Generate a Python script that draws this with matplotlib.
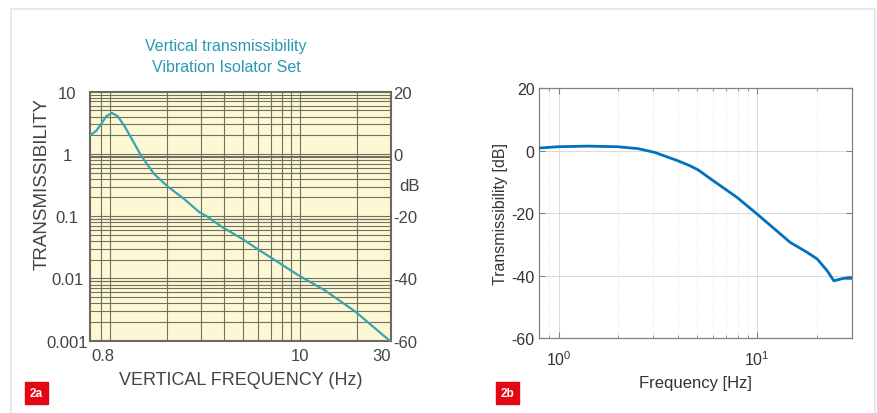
import numpy as np
import matplotlib
matplotlib.use("Agg")
import matplotlib.pyplot as plt
from matplotlib.patches import Rectangle

plt.rcParams['font.family'] = ['Liberation Sans', 'DejaVu Sans']
plt.rcParams['axes.unicode_minus'] = False

# left panel: isolator set, transmissibility (ratio) vs frequency
freq_a = [0.786, 0.792, 0.848, 0.900, 0.956, 1.024, 1.10, 1.19, 1.29, 1.46, 1.71, 2.01, 2.46,
          2.96, 3.23, 3.92, 4.99, 5.90, 7.93, 9.88, 13.6, 19.6, 23.9, 29.2, 30.0]
trans_a = [1.98, 2.02, 2.36, 3.03, 4.03, 4.55, 4.03, 2.84, 1.85, 0.937, 0.476, 0.302, 0.189,
           0.1155, 0.100, 0.0663, 0.0430, 0.0305, 0.0171, 0.0111, 0.00636, 0.00292, 0.00174,
           0.00104, 0.00099]

# right panel: transmissibility in dB vs frequency
freq_b = [0.8, 0.808, 0.99, 1.40, 1.99, 2.51, 3.05, 4.0, 4.6, 5.05, 6.03, 7.93, 10.0, 14.7,
          17.9, 20.1, 22.6, 24.4, 25.8, 27.4, 30.0]
db_b = [0.9, 0.9, 1.3, 1.5, 1.3, 0.7, -0.5, -3.2, -4.8, -6.1, -9.6, -14.9, -20.2, -29.3,
        -32.5, -34.6, -38.4, -41.6, -41.2, -40.8, -40.8]

left_yticks = [0.001, 0.01, 0.1, 1, 10]
left_ylabels = ["0.001", "0.01", "0.1", "1", "10"]
left_dbticks = [-60, -40, -20, 0, 20]
left_xticks = [0.8, 10, 30]
left_xlabels = ["0.8", "10", "30"]
grid_freqs = [0.9, 1, 2, 3, 4, 5, 6, 7, 8, 9, 10, 20]

fig = plt.figure(figsize=(8.78, 4.14), dpi=100)
fig.patch.set_facecolor("white")

# outer frame
frame_col = "#dce6f4"
fig.patches.append(Rectangle((11 / 878, -0.01), (875 - 11) / 878, (414 - 10) / 414 + 0.01,
                             transform=fig.transFigure, fill=False, ec=frame_col, lw=1.2))

# ---- left chart ----
ax1 = fig.add_axes([0.1025, 0.1746, 0.3425, 0.6014])
ax1.set_facecolor("#fdf8d4")
ax1.set_xscale("log")
ax1.set_yscale("log")
ax1.set_xlim(0.786, 30)
ax1.set_ylim(0.001, 10)
grid_col = "#707060"
for f in grid_freqs:
    ax1.axvline(f, color=grid_col, lw=0.8, zorder=1)
for dec in [0.001, 0.01, 0.1, 1]:
    for m in range(2, 10):
        ax1.axhline(dec * m, color=grid_col, lw=0.8, zorder=1)
for dec in [0.01, 0.1, 1]:
    ax1.axhline(dec, color=grid_col, lw=0.8, zorder=1)
    ax1.axhline(dec * 0.918, color=grid_col, lw=0.8, zorder=1)
ax1.plot(freq_a, trans_a, color="#3aa3ad", lw=1.6, zorder=3)
for s in ax1.spines.values():
    s.set_color("#6a6a60")
    s.set_linewidth(1.5)
ax1.set_yticks(left_yticks)
ax1.set_yticklabels(left_ylabels)
ax1.minorticks_off()
ax1.set_xticks(left_xticks)
ax1.set_xticklabels(left_xlabels)
ax1.tick_params(length=0, labelsize=12, colors="#444444")
ax1.tick_params(axis="x", pad=5)
ax1.tick_params(axis="y", pad=16.5)
for lab in ax1.get_yticklabels():
    lab.set_horizontalalignment("center")
ax1.get_xticklabels()[0].set_horizontalalignment("left")
ax1.get_xticklabels()[2].set_horizontalalignment("right")
ax1.set_ylabel("TRANSMISSIBILITY", fontsize=13.5, color="#444444")
ax1.yaxis.set_label_coords(-0.13, 0.632)
ax1.set_xlabel("VERTICAL FREQUENCY (Hz)", fontsize=13, color="#444444", labelpad=6)

ax1r = ax1.twinx()
ax1r.set_ylim(-60, 20)
ax1r.set_yticks(left_dbticks)
ax1r.tick_params(length=0, labelsize=12, colors="#444444", pad=2)
for s in ax1r.spines.values():
    s.set_visible(False)
ax1r.text(1.03, 0.625, "dB", transform=ax1.transAxes, fontsize=12, color="#444444",
          ha="left", va="center")

fig.text(226 / 878, 1 - 47 / 414, "Vertical transmissibility", ha="center", va="center",
         fontsize=11.5, color="#2a98b4")
fig.text(226 / 878, 1 - 67 / 414, "Vibration Isolator Set", ha="center", va="center",
         fontsize=11.5, color="#2a98b4")

# ---- right chart ----
ax2 = fig.add_axes([0.6142, 0.1804, 0.3558, 0.6039])
ax2.set_xscale("log")
ax2.set_xlim(0.8, 30)
ax2.set_ylim(-60, 20)
ax2.set_yticks([-60, -40, -20, 0, 20])
ax2.grid(True, which="major", color="#d9d9d9", lw=0.7)
ax2.grid(True, which="minor", axis="x", color="#e0e0e0", lw=0.6, ls=":")
ax2.plot(freq_b, db_b, color="#0072BD", lw=2.0, zorder=3)
for s in ax2.spines.values():
    s.set_color("#808080")
    s.set_linewidth(0.9)
ax2.tick_params(which="both", direction="in", top=True, right=True, color="#808080",
                labelsize=11.5, labelcolor="#333333")
ax2.tick_params(which="major", length=4)
ax2.tick_params(which="minor", length=2)
ax2.tick_params(axis="x", pad=8)
ax2.set_ylabel("Transmissibility [dB]", fontsize=11.5, color="#333333", labelpad=2)
ax2.set_xlabel("Frequency [Hz]", fontsize=12, color="#333333", labelpad=5)

# panel tags
for x0, tag in [(25, "2a"), (496, "2b")]:
    fig.patches.append(Rectangle((x0 / 878, 1 - 405 / 414), 23 / 878, 22 / 414,
                                 transform=fig.transFigure, color="#e30613", zorder=5))
    fig.text((x0 + 11.5) / 878, 1 - 394 / 414, tag, ha="center", va="center",
             fontsize=8.5, color="white", fontweight="bold", zorder=6)

fig.savefig("out.png", dpi=100)
